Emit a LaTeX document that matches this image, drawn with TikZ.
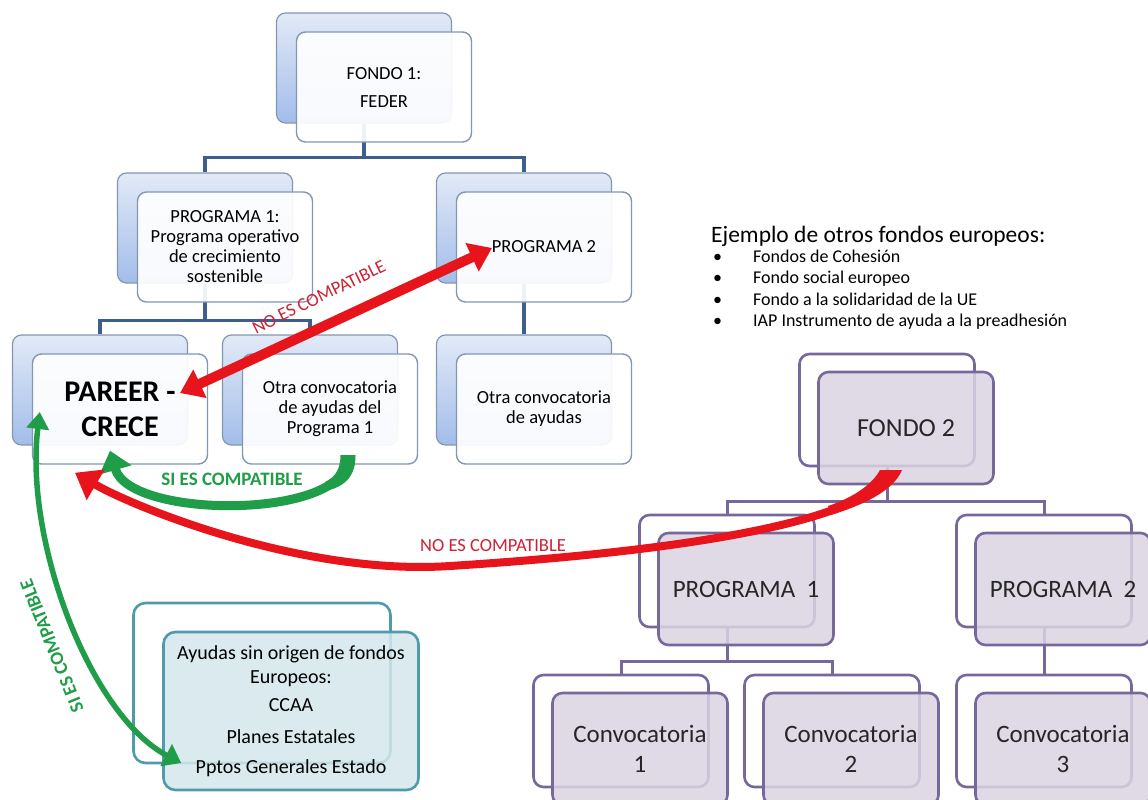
\documentclass[tikz,border=0pt]{standalone}
\usepackage{fontspec}
\setmainfont{Carlito}
\usepackage{tikz}
\usetikzlibrary{arrows.meta}

\definecolor{lineL}{HTML}{3C5F8C}
\definecolor{bordL}{HTML}{8497B0}
\definecolor{blueT}{HTML}{E2EAF7}
\definecolor{blueB}{HTML}{A2BDEA}
\definecolor{purp}{HTML}{76689A}
\definecolor{purpF}{HTML}{DAD4E2}
\definecolor{teal}{HTML}{4F9AAB}
\definecolor{tealF}{HTML}{D5E7EC}
\definecolor{redA}{HTML}{E8141C}
\definecolor{redT}{HTML}{CC2233}
\definecolor{greenA}{HTML}{1F9D48}

\tikzset{
    backL/.style={draw=bordL, line width=1.2pt, rounded corners=9pt,
        top color=blueT, bottom color=blueB,
        minimum width=175pt, minimum height=110pt},
    frontL/.style={draw=bordL, line width=1.4pt, rounded corners=9pt,
        fill=white, fill opacity=0.92, text opacity=1,
        minimum width=175pt, minimum height=110pt, inner sep=4pt,
        align=center, font=\fontsize{18.5}{20}\selectfont},
    backR/.style={draw=purp, line width=2.6pt, rounded corners=10pt, fill=white,
        minimum width=175pt, minimum height=112pt},
    frontR/.style={draw=purp, line width=2.6pt, rounded corners=10pt,
        fill=purpF, fill opacity=0.85, text opacity=1,
        minimum width=175pt, minimum height=112pt, inner sep=4pt,
        align=center, text=black!85, font=\fontsize{25}{30}\selectfont},
    connL/.style={draw=lineL, line width=3.5pt},
    connR/.style={draw=purp, line width=3pt},
    redno/.style={text=redT, inner sep=0pt, font=\fontsize{18.5}{20}\selectfont},
    greensi/.style={text=greenA, inner sep=0pt, font=\bfseries\fontsize{19}{20}\selectfont}
}

\begin{document}
\begin{tikzpicture}[x=1pt,y=-1pt]
    \fill[white] (0,0) rectangle (1148,800);
    \useasboundingbox (0,0) rectangle (1148,800);

    % Back boxes, first tree
    \node[backL] (fondo1b) at (364,68) {};
    \node[backL] (prog1b) at (205,228) {};
    \node[backL] (prog2b) at (524,228) {};
    \node[backL] (pareerb) at (100,390) {};
    \node[backL] (otra1b) at (310,390) {};
    \node[backL] (otra2b) at (524,390) {};

    % Connectors, first tree
    \draw[connL] (fondo1b.south) -- ++(0,34) -| (prog1b.north);
    \draw[connL] (fondo1b.south) -- ++(0,34) -| (prog2b.north);
    \draw[connL] (prog1b.south) -- ++(0,37) -| (pareerb.north);
    \draw[connL] (prog1b.south) -- ++(0,37) -| (otra1b.north);
    \draw[connL] (prog2b.south) -- (otra2b.north);

    % Front boxes, first tree
    \node[frontL] (fondo1) at (384,87) {FONDO 1:\\[8pt] FEDER};
    \node[frontL] (prog1) at (225,247) {PROGRAMA 1:\\ Programa operativo\\ de crecimiento\\ sostenible};
    \node[frontL] (prog2) at (544,247) {PROGRAMA 2};
    \node[frontL, font=\bfseries\fontsize{30}{35}\selectfont] (pareer) at (120,409) {PAREER -\\ CRECE};
    \node[frontL] (otra1) at (330,409) {Otra convocatoria\\ de ayudas del\\ Programa 1};
    \node[frontL] (otra2) at (544,409) {Otra convocatoria\\ de ayudas};

    % Other funds
    \node[anchor=west, inner sep=0pt, font=\fontsize{23.5}{26}\selectfont] (ejemplo) at (711,236)
        {Ejemplo de otros fondos europeos:};
    \node[anchor=north west, inner sep=0pt, font=\fontsize{18}{21.5}\selectfont] (lista) at (713,247)
        {\begin{tabular}{@{}l@{\hspace{31pt}}l@{}}
            \textbullet & Fondos de Cohesión\\
            \textbullet & Fondo social europeo\\
            \textbullet & Fondo a la solidaridad de la UE\\
            \textbullet & IAP Instrumento de ayuda a la preadhesión
        \end{tabular}};

    % Second tree
    \node[backR] (fondo2b) at (887,410) {};
    \node[backR] (rprog1b) at (727,571) {};
    \node[backR] (rprog2b) at (1044,571) {};
    \node[backR] (conv1b) at (621,731) {};
    \node[backR] (conv2b) at (832,731) {};
    \node[backR] (conv3b) at (1044,731) {};

    \draw[connR] (fondo2b.south) -- ++(0,34) -| (rprog1b.north);
    \draw[connR] (fondo2b.south) -- ++(0,34) -| (rprog2b.north);
    \draw[connR] (rprog1b.south) -- ++(0,33) -| (conv1b.north);
    \draw[connR] (rprog1b.south) -- ++(0,33) -| (conv2b.north);
    \draw[connR] (rprog2b.south) -- (conv3b.north);

    \node[frontR, font=\fontsize{26}{30}\selectfont] (fondo2) at (906,428) {FONDO 2};
    \node[frontR] (rprog1) at (746,589) {PROGRAMA\ \ 1};
    \node[frontR] (rprog2) at (1063,589) {PROGRAMA\ \ 2};
    \node[frontR] (conv1) at (640,749) {Convocatoria\\ 1};
    \node[frontR] (conv2) at (851,749) {Convocatoria\\ 2};
    \node[frontR] (conv3) at (1063,749) {Convocatoria\\ 3};

    % National aid
    \node[draw=teal, line width=2.6pt, rounded corners=12pt, fill=white,
        minimum width=257pt, minimum height=160pt] (ayudasb) at (262,683) {};
    \node[draw=teal, line width=2.6pt, rounded corners=12pt, fill=tealF, fill opacity=0.85,
        text opacity=1, minimum width=255pt, minimum height=158pt,
        align=center, font=\fontsize{20}{23}\selectfont] (ayudas) at (291,711)
        {Ayudas sin origen de fondos\\[1pt] Europeos:\\[5pt] CCAA\\[9pt] Planes Estatales\\[7pt] Pptos Generales Estado};

    % Arrows
    \draw[redA, line width=10pt, {Triangle[length=22pt,width=30pt]}-{Triangle[length=22pt,width=30pt]}]
        ([shift={(60,-16)}]pareer.center) -- ([shift={(-52,1)}]prog2.center);
    \fill[greenA] (340.5,455) -- (355.5,455) .. controls (356,478) and (342,487) .. (329,490)
        -- (325,482) .. controls (336,477) and (340.5,468) .. cycle;
    \draw[greenA, line width=9pt, -{Triangle[length=20pt,width=32pt]}]
        ([shift={(18,-9)}]otra1.south) .. controls (352,520) and (130,520) .. ([shift={(-10,-14)}]pareer.south);
    \fill[redA] (880,470) .. controls (872,485) and (852,498) .. (828,506)
        -- (831,515) .. controls (860,506) and (893,492) .. (902,470) -- cycle;
    \draw[redA, line width=8pt, -{Triangle[length=24pt,width=34pt]}]
        ([shift={(-15,-11)}]fondo2.south) .. controls (860,520) and (700,550) .. (450,566)
        .. controls (300,576) and (130,505) .. ([shift={(-45,8)}]pareer.south);
    \draw[greenA, line width=5.5pt, {Triangle[length=17pt,width=22pt]}-{Triangle[length=17pt,width=24pt]}]
        ([shift={(8,3)}]pareer.west) .. controls (24,540) and (90,715) .. ([shift={(19,52)}]ayudas.west);

    % Labels
    \node[redno, rotate=26] (lblno1) at (319,297) {NO ES COMPATIBLE};
    \node[greensi] (lblsi1) at (232,479) {SI ES COMPATIBLE};
    \node[redno] (lblno2) at (493,546) {NO ES COMPATIBLE};
    \node[greensi, rotate=112] (lblsi2) at (52,646) {SI ES COMPATIBLE};
\end{tikzpicture}
\end{document}
